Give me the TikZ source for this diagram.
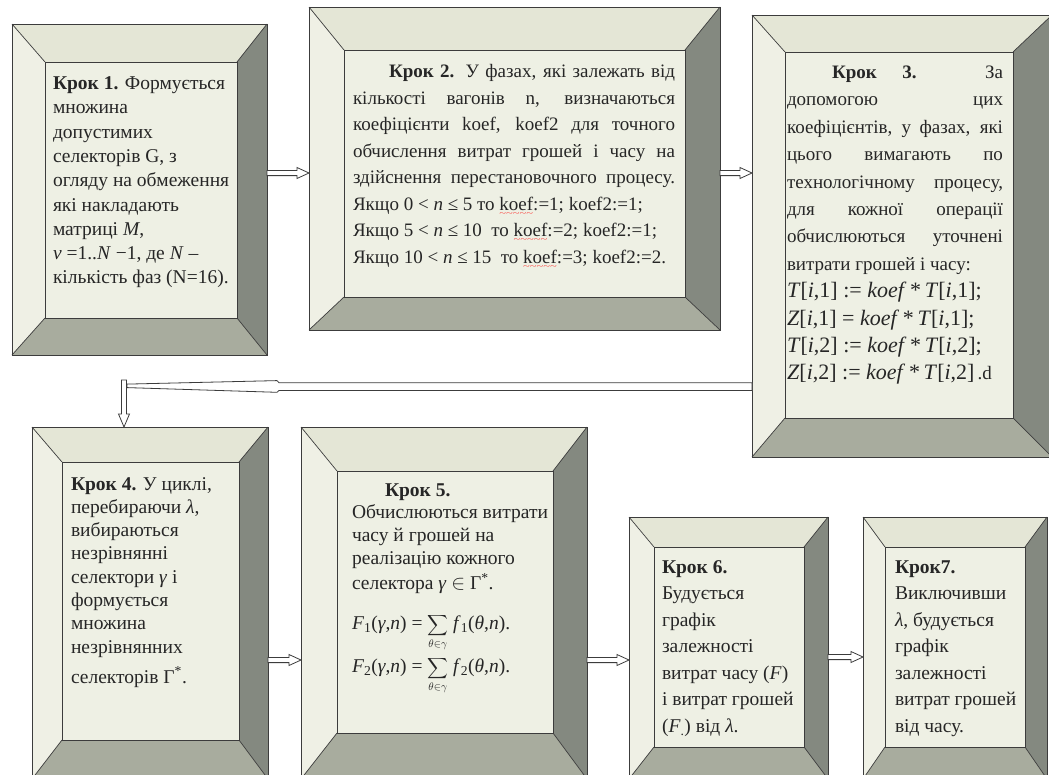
\documentclass[tikz,border=0pt]{standalone}
\usepackage{exscale}
\usepackage{fontspec}
\setmainfont{Liberation Serif}
\usetikzlibrary{calc}
\definecolor{face}{HTML}{EEF0E4}
\definecolor{bvtop}{HTML}{E4E6D6}
\definecolor{bvleft}{HTML}{EFF0E5}
\definecolor{bvright}{HTML}{848980}
\definecolor{bvbot}{HTML}{A8AC9E}
\definecolor{edge}{HTML}{3C3C3C}
\newcommand{\jl}[2]{\makebox[#1][s]{#2}}
\newcommand{\ti}[1]{\textit{#1}}
\newsavebox{\wavbox}
\newcommand{\wav}[1]{\sbox{\wavbox}{#1}\rlap{\usebox{\wavbox}}\raisebox{-5pt}[0pt][0pt]{\color{red}\resizebox{\wd\wavbox}{2.6pt}{\textasciitilde\textasciitilde\textasciitilde\textasciitilde\textasciitilde}}}
\newcommand{\sumg}{{\fontsize{15pt}{16pt}\selectfont$\displaystyle\sum_{\theta\in\gamma}$}}
\newcommand{\bevelframe}[1]{%
 \fill[bvtop] (b#1.north west) -- (b#1.north east) -- (f#1.north east) -- (f#1.north west) -- cycle;
 \fill[bvleft] (b#1.north west) -- (f#1.north west) -- (f#1.south west) -- (b#1.south west) -- cycle;
 \fill[bvright] (b#1.north east) -- (b#1.south east) -- (f#1.south east) -- (f#1.north east) -- cycle;
 \fill[bvbot] (b#1.south west) -- (f#1.south west) -- (f#1.south east) -- (b#1.south east) -- cycle;
 \fill[face] (f#1.north west) rectangle (f#1.south east);
 \draw[edge, line width=0.7pt] (b#1.north west) -- (f#1.north west) (b#1.north east) -- (f#1.north east) (b#1.south west) -- (f#1.south west) (b#1.south east) -- (f#1.south east);
 \draw[edge, line width=0.9pt] (b#1.north west) rectangle (b#1.south east);
 \draw[edge, line width=0.9pt] (f#1.north west) rectangle (f#1.south east);
}
\newcommand{\blockarr}[2]{%
 \filldraw[barrow] let \p1=(#1), \p2=(#2) in
 (\x1,\y1+2.6pt) -- (\x2-12pt,\y1+2.6pt) -- (\x2-12pt,\y1+5.5pt) -- (\x2,\y1) -- (\x2-12pt,\y1-5.5pt) -- (\x2-12pt,\y1-2.6pt) -- (\x1,\y1-2.6pt) -- cycle;
}
\tikzset{
 boxnode/.style={rectangle, inner sep=0pt, outer sep=0pt, anchor=north west},
 txt/.style={inner sep=0pt, outer sep=0pt, anchor=north west, align=left, text=black!85},
 barrow/.style={fill=white, draw=edge, line width=0.8pt, line join=miter},
}
\begin{document}
\begin{tikzpicture}[x=1pt,y=-1pt]
\useasboundingbox (0,0) rectangle (1049,774);
\clip (0,0) rectangle (1049,774);
\fill[white] (0,0) rectangle (1049,774);
% box nodes
\node[boxnode, minimum width=255pt, minimum height=331pt] (b1) at (12,24) {};
\node[boxnode, minimum width=192pt, minimum height=256pt] (f1) at (45,62) {};
\node[boxnode, minimum width=411pt, minimum height=323pt] (b2) at (309,7) {};
\node[boxnode, minimum width=341pt, minimum height=247pt] (f2) at (344,50) {};
\node[boxnode, minimum width=300pt, minimum height=442pt] (b3) at (752,15) {};
\node[boxnode, minimum width=228pt, minimum height=366pt] (f3) at (785,52) {};
\node[boxnode, minimum width=236pt, minimum height=352pt] (b4) at (32,427) {};
\node[boxnode, minimum width=177pt, minimum height=278pt] (f4) at (62,462) {};
\node[boxnode, minimum width=286pt, minimum height=352pt] (b5) at (301,427) {};
\node[boxnode, minimum width=216pt, minimum height=262pt] (f5) at (337,471) {};
\node[boxnode, minimum width=199pt, minimum height=262pt] (b6) at (629,517) {};
\node[boxnode, minimum width=150pt, minimum height=200pt] (f6) at (654,547) {};
\node[boxnode, minimum width=184pt, minimum height=262pt] (b7) at (863,517) {};
\node[boxnode, minimum width=140pt, minimum height=200pt] (f7) at (885,547) {};
\bevelframe{1}\bevelframe{2}\bevelframe{3}\bevelframe{4}\bevelframe{5}\bevelframe{6}\bevelframe{7}
% connectors
\coordinate (a12) at (0,173);
\coordinate (a45) at (0,660);
\coordinate (a67) at (0,657);
\blockarr{b1.east |- a12}{b2.west |- a12}
\blockarr{b2.east |- a12}{b3.west |- a12}
\blockarr{b4.east |- a45}{b5.west |- a45}
\blockarr{b5.east |- a45}{b6.west |- a45}
\blockarr{b6.east |- a67}{b7.west |- a67}
\coordinate (lc) at (124,386.6);
\filldraw[barrow] ($(b3.west |- lc)+(0,-3.9)$) -- ($(lc)+(155,-3.9)$) -- ($(lc)+(153,-6)$) -- ($(lc)+(3,-2.5)$) -- ($(lc)+(3,1)$) -- ($(lc)+(153,5.7)$) -- ($(lc)+(155,3.9)$) -- ($(b3.west |- lc)+(0,3.9)$) -- cycle;
\filldraw[barrow] ($(lc)+(-2.5,-6.6)$) -- ($(lc)+(2.5,-6.6)$) -- ($(lc)+(2.5,27.4)$) -- ($(lc)+(5.5,27.4)$) -- (lc |- b4.north) -- ($(lc)+(-5.5,27.4)$) -- ($(lc)+(-2.5,27.4)$) -- cycle;
% texts
\node[txt, font={\fontsize{19.5pt}{24.3pt}\selectfont}] (t1) at (53,73.5) {\rule{0pt}{16pt}\textbf{Крок 1.} Формується\\ множина\\ допустимих\\ селекторів G, з\\ огляду на обмеження\\ які накладають\\ матриці \ti{M},\\ \ti{v} =1..\ti{N} −1, де \ti{N} –\\ кількість фаз (N=16).};
\node[txt, font={\fontsize{19pt}{26.5pt}\selectfont}] (t2) at (353,61.5) {\rule{0pt}{16pt}\jl{322pt}{\hspace*{36pt}\textbf{Крок 2.} У фазах, які залежать від}\\
\jl{322pt}{кількості вагонів n, визначаються}\\
\jl{322pt}{коефіцієнти koef, koef2 для точного}\\
\jl{322pt}{обчислення витрат грошей і часу на}\\
\jl{322pt}{здійснення перестановочного процесу.}\\
Якщо 0 < \ti{n} ≤ 5 то \wav{koef}:=1; koef2:=1;\\
Якщо 5 < \ti{n} ≤ 10\ \ то \wav{koef}:=2; koef2:=1;\\
Якщо 10 < \ti{n} ≤ 15\ \ то \wav{koef}:=3; koef2:=2.};
\node[txt, font={\fontsize{19pt}{27.4pt}\selectfont}] (t3) at (787,62.5) {\rule{0pt}{16pt}\jl{216pt}{\hspace*{45pt}\textbf{Крок 3.} За}\\
\jl{216pt}{допомогою цих}\\
\jl{216pt}{коефіцієнтів, у фазах, які}\\
\jl{216pt}{цього вимагають по}\\
\jl{216pt}{технологічному процесу,}\\
\jl{216pt}{для кожної операції}\\
\jl{216pt}{обчислюються уточнені}\\
витрати грошей і часу:\\
{\fontsize{22pt}{27.4pt}\selectfont \ti{T}[\ti{i},1] := \ti{koef}\,*\,\ti{T}[\ti{i},1];}\\
{\fontsize{22pt}{27.4pt}\selectfont \ti{Z}[\ti{i},1] = \ti{koef}\,*\,\ti{T}[\ti{i},1];}\\
{\fontsize{22pt}{27.4pt}\selectfont \ti{T}[\ti{i},2] := \ti{koef}\,*\,\ti{T}[\ti{i},2];}\\
{\fontsize{22pt}{27.4pt}\selectfont \ti{Z}[\ti{i},2] := \ti{koef}\,*\,\ti{T}[\ti{i},2]}\,.d};
\node[txt, font={\fontsize{19.5pt}{23.3pt}\selectfont}] (t4) at (71,474) {\rule{0pt}{16pt}\textbf{Крок 4.} У циклі,\\ перебираючи \ti{λ},\\ вибираються\\ незрівнянні\\ селектори \ti{γ} і\\ формується\\ множина\\ незрівнянних\\[7pt] селекторів Γ\textsuperscript{*}.};
\node[txt, font={\fontsize{19.5pt}{22.7pt}\selectfont}] (t5) at (352,480) {\rule{0pt}{16pt}\hspace*{33pt}\textbf{Крок 5.}\\ Обчислюються витрати\\ часу й грошей на\\ реалізацію кожного\\[3pt] селектора \ti{γ} $\in$ Γ\textsuperscript{*}.\\[17pt]
\smash{\ti{F}\textsubscript{1}(\ti{γ},\ti{n}) = \sumg\ \ti{f}\textsubscript{1}(\ti{θ},\ti{n})}.\\[20pt]
\smash{\ti{F}\textsubscript{2}(\ti{γ},\ti{n}) = \sumg\ \ti{f}\textsubscript{2}(\ti{θ},\ti{n})}.};
\node[txt, font={\fontsize{19.5pt}{26.5pt}\selectfont}] (t6) at (662,557) {\rule{0pt}{16pt}\textbf{Крок 6.}\\ Будується\\ графік\\ залежності\\ витрат часу (\ti{F})\\ і витрат грошей\\ (\ti{F}\textsubscript{.}) від \ti{λ}.};
\node[txt, font={\fontsize{19.5pt}{26.5pt}\selectfont}] (t7) at (895,557) {\rule{0pt}{16pt}\textbf{Крок7.}\\ Виключивши\\ \ti{λ}, будується\\ графік\\ залежності\\ витрат грошей\\ від часу.};
\end{tikzpicture}
\end{document}
